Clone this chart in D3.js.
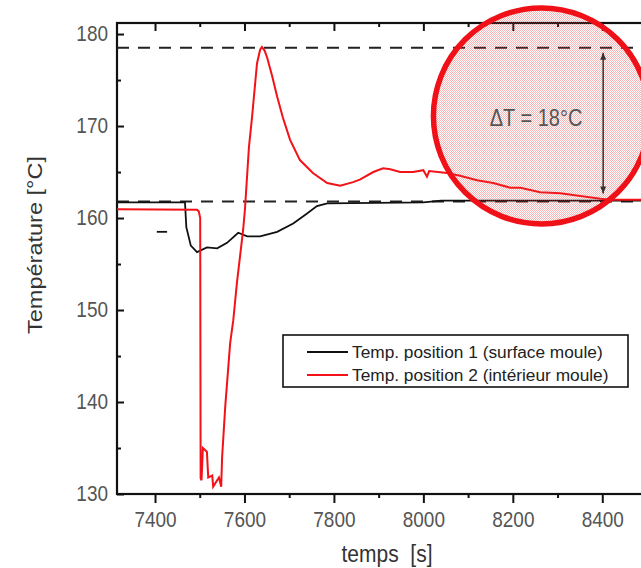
<!DOCTYPE html>
<html>
<head>
<meta charset="utf-8">
<script src="https://cdn.jsdelivr.net/npm/d3@7"></script>
<style>
  body { margin: 0; background: #fff; }
  text { font-family: Arial, "Liberation Sans", sans-serif; }
</style>
</head>
<body>
<script>
//values
var surfaceTime = [7315, 7467, 7470, 7480, 7494, 7516, 7539, 7561, 7586, 7606, 7635, 7673, 7709, 7740, 7762, 7785, 8000, 8040, 8500];
var surfaceTemp = [161.7, 161.7, 159.0, 157.0, 156.3, 156.8, 156.7, 157.3, 158.4, 158.0, 158.0, 158.5, 159.4, 160.5, 161.3, 161.6, 161.7, 161.9, 161.9];

//small stray piece of the surface trace
var strayTime = [7404, 7427];
var strayTemp = [158.5, 158.5];

var interiorTime = [7315, 7494, 7498, 7501, 7502, 7504, 7507, 7516, 7519, 7528, 7530, 7539, 7543, 7548, 7550,
  7557, 7568, 7575, 7583, 7590, 7597, 7601, 7610, 7617, 7624, 7628, 7635, 7639, 7645, 7651, 7662, 7673, 7686,
  7702, 7724, 7753, 7785, 7814, 7843, 7859, 7888, 7910, 7926, 7948, 7977, 8000, 8008, 8013, 8053, 8082,
  8120, 8156, 8194, 8217, 8261, 8306, 8351, 8396, 8418, 8500];
var interiorTemp = [160.95, 160.9, 160.7, 160.0, 131.7, 131.5, 135.0, 134.6, 131.8, 132.0, 130.8, 131.5, 131.8, 130.8, 134.0,
  139.5, 146.4, 148.9, 152.9, 155.8, 158.7, 160.9, 167.7, 171.0, 174.7, 176.8, 178.3, 178.6, 178.2, 177.4, 175.4, 173.2, 170.9,
  168.5, 166.3, 164.9, 163.8, 163.5, 163.9, 164.2, 165.0, 165.4, 165.3, 165.0, 165.0, 165.2, 164.5, 165.1, 164.9, 164.6,
  164.1, 163.8, 163.3, 163.3, 162.8, 162.7, 162.4, 162.1, 162.0, 162.0];

var refLevels = [178.5, 161.8];
var xMajor = [7400, 7600, 7800, 8000, 8200, 8400];
var xMinor = [7500, 7700, 7900, 8100, 8300];
var yMajor = [130, 140, 150, 160, 170, 180];
var yMinor = [135, 145, 155, 165, 175];
var legendLabels = ["Temp. position 1 (surface moule)", "Temp. position 2 (intérieur moule)"];
var seriesColors = ["#111", "#f21218"];
var deltaLabel = "\u0394T = 18\u00b0C";

var svgW = 641, svgH = 568;
var plot = {left: 117, top: 23, right: 647, bottom: 494};

var x = d3.scaleLinear().domain([7315, 8500]).range([plot.left, plot.right]);
var y = d3.scaleLinear().domain([130, 181.2]).range([plot.bottom, plot.top]);

var svg = d3.select("body").append("svg")
  .attr("width", svgW)
  .attr("height", svgH);

//dotted fill used by the highlight circle
var pat = svg.append("defs").append("pattern")
  .attr("id", "dots")
  .attr("width", 2).attr("height", 2)
  .attr("patternUnits", "userSpaceOnUse");
pat.append("rect").attr("x", 0).attr("y", 0).attr("width", 1).attr("height", 1).attr("fill", "rgba(235,60,60,0.38)");
pat.append("rect").attr("x", 1).attr("y", 1).attr("width", 1).attr("height", 1).attr("fill", "rgba(235,60,60,0.38)");

//left axis, ticks inside
var yAxis = svg.append("g")
  .attr("transform", "translate(" + plot.left + ",0)")
  .call(d3.axisLeft(y).tickValues(yMajor).tickSize(-7).tickPadding(9));
svg.append("g")
  .attr("transform", "translate(" + plot.left + ",0)")
  .call(d3.axisLeft(y).tickValues(yMinor).tickSize(-4).tickFormat(""));

//bottom axis, ticks outside
var xAxis = svg.append("g")
  .attr("transform", "translate(0," + plot.bottom + ")")
  .call(d3.axisBottom(x).tickValues(xMajor).tickSize(9).tickFormat(d3.format("d")));
svg.append("g")
  .attr("transform", "translate(0," + plot.bottom + ")")
  .call(d3.axisBottom(x).tickValues(xMinor).tickSize(4).tickFormat(""));

//top axis, ticks inside
svg.append("g")
  .attr("transform", "translate(0," + plot.top + ")")
  .call(d3.axisTop(x).tickValues(xMajor).tickSize(-8).tickFormat(""));
svg.append("g")
  .attr("transform", "translate(0," + plot.top + ")")
  .call(d3.axisTop(x).tickValues(xMinor).tickSize(-4).tickFormat(""));

svg.selectAll(".domain").remove();
svg.selectAll(".tick line").attr("stroke", "#111").attr("stroke-width", 2);

yAxis.selectAll("text")
  .attr("font-size", 19)
  .attr("fill", "#555")
  .attr("transform", "scale(1,1.12)");
xAxis.selectAll("text")
  .attr("font-size", 19)
  .attr("fill", "#555")
  .attr("y", 0).attr("dy", 0)
  .attr("transform", "translate(0,33) scale(1,1.2)");

//frame
svg.append("rect")
  .attr("x", plot.left).attr("y", plot.top)
  .attr("width", plot.right - plot.left).attr("height", plot.bottom - plot.top)
  .attr("fill", "none").attr("stroke", "#111").attr("stroke-width", 2.2);

//dashed reference levels
svg.selectAll(".ref").data(refLevels).enter().append("line")
  .attr("class", "ref")
  .attr("x1", plot.left).attr("x2", plot.right)
  .attr("y1", function(d){ return y(d); })
  .attr("y2", function(d){ return y(d); })
  .attr("stroke", "#222").attr("stroke-width", 2)
  .attr("stroke-dasharray", "12,9");

var line = d3.line()
  .x(function(d){ return x(d[0]); })
  .y(function(d){ return y(d[1]); });

function pairs(ts, vs){ return ts.map(function(t, i){ return [t, vs[i]]; }); }

svg.append("path")
  .datum(pairs(strayTime, strayTemp))
  .attr("d", line)
  .attr("fill", "none").attr("stroke", seriesColors[0]).attr("stroke-width", 1.8);

svg.append("path")
  .datum(pairs(surfaceTime, surfaceTemp))
  .attr("d", line)
  .attr("fill", "none").attr("stroke", seriesColors[0]).attr("stroke-width", 1.8);

svg.append("path")
  .datum(pairs(interiorTime, interiorTemp))
  .attr("d", line)
  .attr("fill", "none").attr("stroke", seriesColors[1]).attr("stroke-width", 2);

//legend
var legend = svg.append("g").attr("transform", "translate(283,335)");
legend.append("rect")
  .attr("width", 345).attr("height", 52)
  .attr("fill", "#fff").attr("stroke", "#111").attr("stroke-width", 1.6);
legendLabels.forEach(function(lbl, i){
  var ly = 17 + i * 23;
  legend.append("line")
    .attr("x1", 24).attr("x2", 65).attr("y1", ly).attr("y2", ly)
    .attr("stroke", seriesColors[i]).attr("stroke-width", 2);
  legend.append("text")
    .attr("x", 69).attr("y", ly).attr("dy", "0.36em")
    .attr("font-size", 17.3).attr("fill", "#222")
    .text(lbl);
});

//axis titles
svg.append("text")
  .attr("transform", "translate(42,245) rotate(-90) scale(1.12,1)")
  .attr("text-anchor", "middle")
  .attr("font-size", 21).attr("fill", "#333")
  .text("Température [°C]");

svg.append("text")
  .attr("transform", "translate(387,562) scale(1,1.12)")
  .attr("text-anchor", "middle")
  .attr("font-size", 21).attr("fill", "#333")
  .style("white-space", "pre")
  .text("temps  [s]");

//highlight circle
svg.append("circle")
  .attr("cx", x(8264)).attr("cy", y(171.1)).attr("r", 108)
  .attr("fill", "url(#dots)")
  .attr("stroke", "#f01018").attr("stroke-width", 5.5);

//double arrow between the two levels
var ax = x(8402), ay1 = y(refLevels[0]) + 5, ay2 = y(refLevels[1]) - 8;
svg.append("line")
  .attr("x1", ax).attr("x2", ax).attr("y1", ay1).attr("y2", ay2)
  .attr("stroke", "#333").attr("stroke-width", 1.5);
svg.append("path")
  .attr("d", "M" + ax + "," + ay1 + "l-3,7h6z")
  .attr("fill", "#333");
svg.append("path")
  .attr("d", "M" + ax + "," + ay2 + "l-3,-7h6z")
  .attr("fill", "#333");

svg.append("text")
  .attr("transform", "translate(" + x(8252) + "," + y(170.9) + ") scale(1,1.15)")
  .attr("text-anchor", "middle").attr("dy", "0.36em")
  .attr("font-size", 20).attr("fill", "#555")
  .text(deltaLabel);
</script>
</body>
</html>
